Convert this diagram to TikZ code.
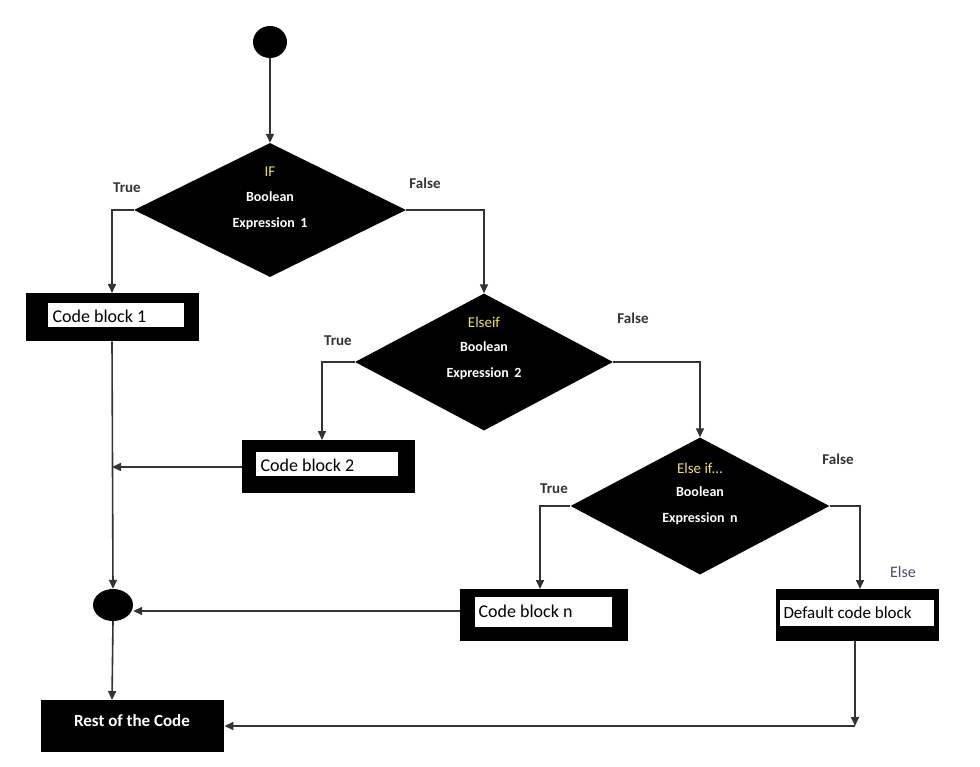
\documentclass[tikz,border=0pt]{standalone}
\usepackage{fontspec}
\setmainfont{Carlito}
\usetikzlibrary{shapes.geometric,arrows.meta}
\definecolor{ln}{HTML}{333333}
\definecolor{ifc}{HTML}{F0E060}
\definecolor{elsec}{HTML}{4A4A7A}
\begin{document}
\begin{tikzpicture}[x=1pt,y=-1pt,
  dia/.style={diamond,fill=black,inner sep=0pt,minimum width=272pt,minimum height=134pt,text=white,font=\bfseries\fontsize{14}{16}\selectfont,align=center},
  blk/.style={rectangle,fill=black,inner sep=0pt,anchor=north west},
  inr/.style={rectangle,fill=white,inner sep=0pt,anchor=north west,font=\fontsize{18}{20}\selectfont,text=black},
  dot/.style={ellipse,fill=black,inner sep=0pt},
  lbl/.style={font=\bfseries\fontsize{15}{17}\selectfont,text=ln},
  con/.style={draw=ln,line width=1.6pt,-{Triangle[width=8pt,length=9pt]}},
  lin/.style={draw=ln,line width=1.6pt}]
\useasboundingbox (0,0) rectangle (980,767);
\fill[white] (0,0) rectangle (980,767);
% start
\node[dot,minimum width=34pt,minimum height=32pt] (start) at (270,42) {};
% diamonds
\node[dia] (d1) at (270,210) {};
\node[text=ifc,font=\fontsize{15}{17}\selectfont] at (270,172) {IF};
\node[text=white,font=\bfseries\fontsize{14}{16}\selectfont] at (270,197) {Boolean};
\node[text=white,font=\bfseries\fontsize{14}{16}\selectfont] at (270,224) {Expression\, 1};
\node[dia,minimum width=258pt,minimum height=137pt] (d2) at (484,362) {};
\node[text=ifc,font=\fontsize{15}{17}\selectfont] at (484,322) {Elseif};
\node[text=white,font=\bfseries\fontsize{14}{16}\selectfont] at (484,347) {Boolean};
\node[text=white,font=\bfseries\fontsize{14}{16}\selectfont] at (484,374) {Expression\, 2};
\node[dia,minimum width=259pt,minimum height=137pt] (d3) at (700,506) {};
\node[text=ifc,font=\fontsize{15}{17}\selectfont] at (700,468) {Else if...};
\node[text=white,font=\bfseries\fontsize{14}{16}\selectfont] at (700,492) {Boolean};
\node[text=white,font=\bfseries\fontsize{14}{16}\selectfont] at (700,519) {Expression\, n};
% blocks
\node[blk,minimum width=173pt,minimum height=48pt] (cb1) at (26,293) {};
\node[inr,minimum width=136pt,minimum height=24pt] (cb1t) at (48,303) {};
\node[anchor=west,font=\fontsize{18}{20}\selectfont] at (49,316) {Code block 1};
\node[blk,minimum width=173pt,minimum height=53pt] (cb2) at (242,440) {};
\node[inr,minimum width=142pt,minimum height=24pt] (cb2t) at (256,452) {};
\node[anchor=west,font=\fontsize{18}{20}\selectfont] at (257,465) {Code block 2};
\node[blk,minimum width=168pt,minimum height=52pt] (cbn) at (460,589) {};
\node[inr,minimum width=137pt,minimum height=30pt] (cbnt) at (475,597) {};
\node[anchor=west,font=\fontsize{18}{20}\selectfont] at (475,611) {Code block n};
\node[blk,minimum width=163pt,minimum height=52pt] (def) at (776,589) {};
\node[inr,minimum width=154pt,minimum height=26pt] (deft) at (780,600) {};
\node[anchor=west,font=\fontsize{17}{19}\selectfont] at (780,613) {Default code block};
\node[blk,minimum width=183pt,minimum height=52pt] (rest) at (41,700) {};
\node[text=white,font=\bfseries\fontsize{17}{19}\selectfont] at (132,721) {Rest of the Code};
% merge
\node[dot,minimum width=40pt,minimum height=32pt] (merge) at (113,605) {};
% labels
\node[lbl] at (127,188) {True};
\node[lbl] at (425,183) {False};
\node[lbl] at (338,341) {True};
\node[lbl] at (633,318) {False};
\node[lbl] at (554,489) {True};
\node[lbl] at (838,459) {False};
\node[text=elsec,font=\fontsize{16}{18}\selectfont] at (903,572) {Else};
% connectors
\coordinate (j1) at (112,467);
\coordinate (j2) at (855,726);
\draw[con] (start) -- (d1.north);
\draw[con] (d1.west) -| (cb1.north -| 112,0);
\draw[con] (d1.east) -| (d2.north);
\draw[con] (d2.west) -| (cb2.north -| 322,0);
\draw[con] (d2.east) -| (d3.north);
\draw[con] (d3.west) -| (cbn.north -| 540,0);
\draw[con] (d3.east) -| (def.north -| 860,0);
\draw[con] (cb1.south -| 112,0) -- (merge.north);
\draw[con] (cb2.west |- j1) -- (j1);
\draw[con] (cbn.west |- 0,611) -- (merge.east |- 0,611);
\draw[con] (merge.south) -- (rest.north -| 112,0);
\draw[con] (def.south -| 855,0) -- (j2);
\draw[con] (j2) -- (rest.east |- j2);
\end{tikzpicture}
\end{document}
